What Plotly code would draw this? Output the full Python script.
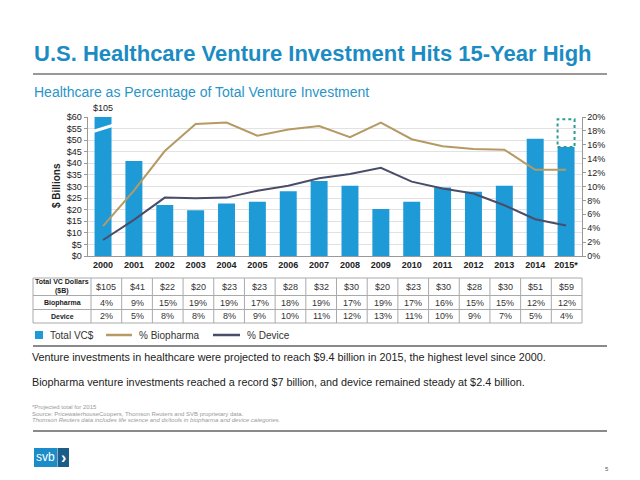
import plotly.graph_objects as go

# ---------------- data ----------------
years = ["2000", "2001", "2002", "2003", "2004", "2005", "2006", "2007",
         "2008", "2009", "2010", "2011", "2012", "2013", "2014", "2015*"]
total_vc = [105, 41, 22, 19.8, 22.7, 23.4, 28, 32.4, 30.3, 20.3, 23.4, 29.6, 27.7, 30.3, 50.6, 59]
vc_2015_to_date = 47
biopharma_pct = [4.3, 9.4, 15.1, 19.0, 19.2, 17.3, 18.2, 18.7, 17.1, 19.2, 16.8, 15.8, 15.4, 15.3, 12.4, 12.4]
device_pct = [2.3, 5.2, 8.4, 8.3, 8.4, 9.4, 10.1, 11.2, 11.8, 12.7, 10.7, 9.7, 9.0, 7.3, 5.3, 4.4]
y_left_max = 60
y_right_max = 20

# ---------------- style ----------------
FONT = "Liberation Sans, Arial, sans-serif"
BLUE_TITLE = "#1b8cc3"
BAR = "#1e9bd7"
BIO = "#b59a64"
DEV = "#4a4d69"
TEAL = "#2a9d93"
W, H = 640, 480
OFF = 8  # page body margin of the rendered html


def px(x):
    return (x - OFF) / W


def py(y):
    return 1 - (y - OFF) / H


x_dom = [px(87.6), px(581.5)]
y_dom = [py(256), py(117)]

idx = list(range(len(years)))
bar_y = total_vc[:-1] + [vc_2015_to_date]
bar_w = 0.55

fig = go.Figure()
fig.add_trace(go.Bar(x=idx, y=bar_y, width=bar_w, marker=dict(color=BAR, line=dict(width=0)),
                     name="Total VC$", showlegend=False))
fig.add_trace(go.Scatter(x=idx, y=biopharma_pct, yaxis="y2", mode="lines",
                         line=dict(color=BIO, width=2), name="% Biopharma", showlegend=False))
fig.add_trace(go.Scatter(x=idx, y=device_pct, yaxis="y2", mode="lines",
                         line=dict(color=DEV, width=2), name="% Device", showlegend=False))

shapes = []
annotations = []


def ann(x, y, text, size, color="#222", xanchor="center", yanchor="middle", xref="paper", **kw):
    d = dict(x=x, y=y, xref=xref, yref="paper", text=text, showarrow=False,
             xanchor=xanchor, yanchor=yanchor, font=dict(size=size, color=color, family=FONT))
    d.update(kw)
    annotations.append(d)


def hline(x0, x1, y, color, width):
    shapes.append(dict(type="line", xref="paper", yref="paper", x0=px(x0), x1=px(x1), y0=py(y), y1=py(y),
                       line=dict(color=color, width=width)))


# axis break on the 2000 bar
b0 = idx[0]
shapes.append(dict(type="path", xref="x", yref="y",
                   path="M %.2f,53.0 L %.2f,55.8 L %.2f,57.2 L %.2f,54.4 Z" % (b0 - 0.34, b0 + 0.34, b0 + 0.34, b0 - 0.34),
                   fillcolor="white", line=dict(width=0), layer="above"))
ann(b0, py(108), "$%d" % total_vc[0], 9, xref="x")
# projected part of 2015
b15 = idx[-1]
shapes.append(dict(type="rect", xref="x", yref="y", x0=b15 - bar_w / 2, x1=b15 + bar_w / 2,
                   y0=vc_2015_to_date, y1=total_vc[-1],
                   line=dict(color=TEAL, width=2, dash="dot"), fillcolor="rgba(0,0,0,0)"))

# y-axis title
ann(px(56), py(186), "<b>$ Billions</b>", 10, textangle=-90)

# ---------------- table ----------------
t_left, t_lab, t_right = 33, 91, 582
rows = [278, 295.5, 309.5, 323]
ncol = len(years)
cw = (t_right - t_lab) / ncol
for yy in rows:
    hline(t_left, t_right, yy, "#aaaaaa", 1)
for k in range(ncol + 2):
    xx = t_left if k == 0 else t_lab + (k - 1) * cw
    shapes.append(dict(type="line", xref="paper", yref="paper", x0=px(xx), x1=px(xx),
                       y0=py(rows[0]), y1=py(rows[-1]), line=dict(color="#aaaaaa", width=1)))

row_labels = ["<b>Total VC Dollars<br>($B)</b>", "<b>Biopharma</b>", "<b>Device</b>"]
row_vals = [["$%d" % round(v) for v in total_vc],
            ["%d%%" % round(v) for v in biopharma_pct],
            ["%d%%" % round(v) for v in device_pct]]
for r in range(3):
    yc = (rows[r] + rows[r + 1]) / 2
    ann(px((t_left + t_lab) / 2), py(yc), row_labels[r], 7)
    for c in range(ncol):
        ann(px(t_lab + (c + 0.5) * cw), py(yc), row_vals[r][c], 9, color="#333")

# ---------------- legend (manual) ----------------
ly = 335
shapes.append(dict(type="rect", xref="paper", yref="paper", x0=px(35), x1=px(43), y0=py(ly + 4), y1=py(ly - 4),
                   fillcolor=BAR, line=dict(width=0)))
hline(106, 132, ly, BIO, 2.5)
hline(213, 240, ly, DEV, 2.5)
for xx, txt in [(48, "Total VC$"), (137, "% Biopharma"), (245, "% Device")]:
    ann(px(xx), py(ly), txt, 10, color="#333", xanchor="left")

# ---------------- separators ----------------
hline(33, 607, 74, "#777777", 1.5)
hline(33, 607, 346, "#8a8a8a", 2)
hline(33, 607, 431, "#8a8a8a", 2)

# ---------------- titles & text ----------------
ann(px(32), py(53), "<b>U.S. Healthcare Venture Investment Hits 15-Year High</b>", 22,
    color=BLUE_TITLE, xanchor="left")
ann(px(32), py(92), "Healthcare as Percentage of Total Venture Investment", 14,
    color="#2895c7", xanchor="left")
ann(px(30), py(357),
    "Venture investments in healthcare were projected to reach $9.4 billion in 2015, the highest level since 2000.",
    10.8, xanchor="left")
ann(px(30), py(382),
    "Biopharma venture investments reached a record $7 billion, and device remained steady at $2.4 billion.",
    10.8, xanchor="left")
foot = ["*Projected total for 2015",
        "Source: PricewaterhouseCoopers, Thomson Reuters and SVB proprietary data.",
        "<i>Thomson Reuters data includes life science and dx/tools in biopharma and device categories.</i>"]
for i, t in enumerate(foot):
    ann(px(30), py(407 + 6.5 * i), t, 6, color="#999", xanchor="left")

# logo
shapes.append(dict(type="rect", xref="paper", yref="paper", x0=px(34), x1=px(57), y0=py(467), y1=py(448),
                   fillcolor="#1b8cc8", line=dict(width=0)))
shapes.append(dict(type="rect", xref="paper", yref="paper", x0=px(57.5), x1=px(69), y0=py(467), y1=py(448),
                   fillcolor="#1b5d88", line=dict(width=0)))
ann(px(45.5), py(457), "svb", 12, color="white")
ann(px(63.3), py(457), "<b>›</b>", 16, color="white")
ann(px(607), py(469), "5", 6, color="#555")

fig.update_layout(
    width=W, height=H, margin=dict(l=0, r=0, t=0, b=0, autoexpand=False),
    paper_bgcolor="white", plot_bgcolor="white",
    font=dict(family=FONT, color="#222"),
    showlegend=False,
    xaxis=dict(domain=x_dom, range=[-0.5, len(years) - 0.5], tickmode="array", tickvals=idx, ticktext=years,
               showline=True, linecolor="#999", linewidth=1, showgrid=False, zeroline=False,
               ticks="", tickfont=dict(size=9, color="#222", family=FONT, weight="bold"), automargin=False),
    yaxis=dict(domain=y_dom, range=[0, y_left_max], dtick=5, tickprefix="$", showgrid=True,
               gridcolor="#e2e2e2", gridwidth=1, showline=True, linecolor="#999", ticks="outside",
               ticklen=3, tickcolor="#999", tickfont=dict(size=9, color="#222", family=FONT), zeroline=False,
               automargin=False),
    yaxis2=dict(overlaying="y", side="right", range=[0, y_right_max], dtick=2, ticksuffix="%",
                showgrid=False, showline=True, linecolor="#999", ticks="outside", ticklen=3,
                tickcolor="#999", tickfont=dict(size=9, color="#222", family=FONT), zeroline=False,
                automargin=False),
    shapes=shapes, annotations=annotations,
)

fig.write_html("out.html")
